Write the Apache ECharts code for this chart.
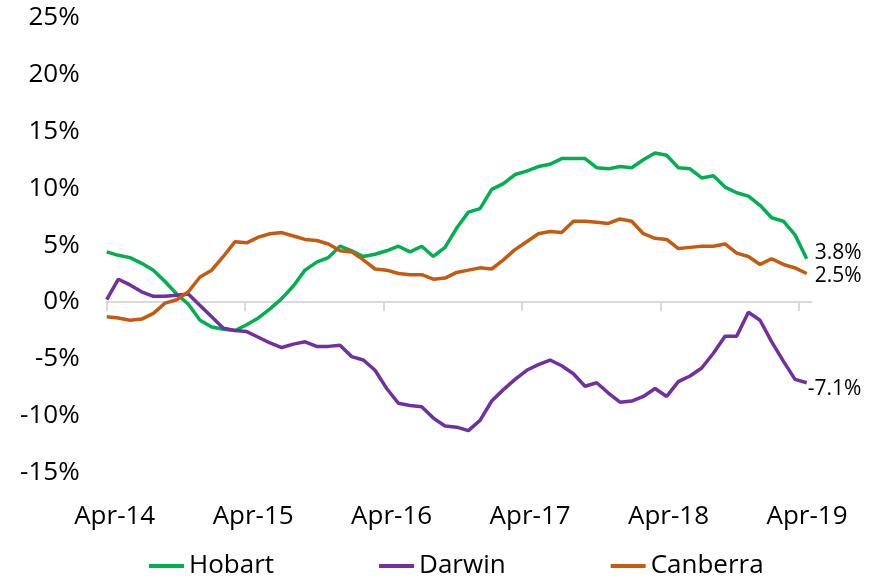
<!DOCTYPE html>
<html>
<head>
<meta charset="utf-8">
<script src="https://cdn.jsdelivr.net/npm/echarts@6/dist/echarts.min.js"></script>
<style>
  html, body { margin: 0; padding: 0; background: #fff; }
  #chart { width: 879px; height: 580px; }
</style>
</head>
<body>
<div id="chart"></div>
<script>
// monthly categories, Apr-14 .. Apr-19
const monthNames = ['Jan', 'Feb', 'Mar', 'Apr', 'May', 'Jun', 'Jul', 'Aug', 'Sep', 'Oct', 'Nov', 'Dec']
const months = []
for (let i = 0; i <= 60; i++) {
  const m = (3 + i) % 12
  const y = 14 + Math.floor((3 + i) / 12)
  months.push(monthNames[m] + '-' + y)
}

const tickLabels = ['Apr-14', 'Apr-15', 'Apr-16', 'Apr-17', 'Apr-18', 'Apr-19']
const tickMonths = [0, 12, 24, 36, 48, 60]

const hobart = [
  4.4, 4.1, 3.9, 3.4, 2.8, 1.8, 0.7, -0.2, -1.6, -2.2,
  -2.4, -2.5, -2.0, -1.4, -0.6, 0.3, 1.4, 2.8, 3.5, 3.9,
  4.9, 4.5, 4.0, 4.2, 4.5, 4.9, 4.4, 4.9, 4.0, 4.8,
  6.5, 7.9, 8.2, 9.9, 10.4, 11.2, 11.5, 11.9, 12.1, 12.6,
  12.6, 12.6, 11.8, 11.7, 11.9, 11.8, 12.5, 13.1, 12.9, 11.8,
  11.7, 10.9, 11.1, 10.1, 9.6, 9.3, 8.5, 7.4, 7.1, 5.9,
  3.8
]
const darwin = [
  0.2, 2.0, 1.5, 0.9, 0.5, 0.5, 0.6, 0.7, -0.3, -1.3,
  -2.3, -2.5, -2.6, -3.1, -3.6, -4.0, -3.7, -3.5, -3.9, -3.9,
  -3.8, -4.8, -5.1, -6.0, -7.6, -8.9, -9.1, -9.2, -10.2, -10.9,
  -11.0, -11.3, -10.4, -8.7, -7.7, -6.8, -6.0, -5.5, -5.1, -5.6,
  -6.3, -7.4, -7.1, -8.0, -8.8, -8.7, -8.3, -7.6, -8.3, -7.0,
  -6.5, -5.8, -4.5, -3.0, -3.0, -0.9, -1.6, -3.5, -5.2, -6.8,
  -7.1
]
const canberra = [
  -1.3, -1.4, -1.6, -1.5, -1.0, -0.1, 0.2, 0.9, 2.2, 2.8,
  4.0, 5.3, 5.2, 5.7, 6.0, 6.1, 5.8, 5.5, 5.4, 5.1,
  4.5, 4.4, 3.7, 2.9, 2.8, 2.5, 2.4, 2.4, 2.0, 2.1,
  2.6, 2.8, 3.0, 2.9, 3.7, 4.6, 5.3, 6.0, 6.2, 6.1,
  7.1, 7.1, 7.0, 6.9, 7.3, 7.1, 6.0, 5.6, 5.5, 4.7,
  4.8, 4.9, 4.9, 5.1, 4.3, 4.0, 3.3, 3.8, 3.3, 3.0,
  2.5
]

const font = 'Open Sans'
const chart = echarts.init(document.getElementById('chart'))

function lineSeries(name, data, color, offset) {
  return {
    name: name,
    type: 'line',
    xAxisIndex: 0,
    yAxisIndex: 0,
    data: data,
    showSymbol: false,
    color: color,
    lineStyle: { color: color, width: 3.5 },
    endLabel: {
      show: true,
      formatter: p => p.value.toFixed(1) + '%',
      color: '#000',
      fontFamily: font,
      fontSize: 21,
      offset: offset
    }
  }
}

const option = {
  animation: false,
  backgroundColor: '#fff',
  grid: [
    { left: 106.7, top: 17.5, width: 700, height: 455.2 },  // data
    { left: 106.7, top: 17.5, width: 705, height: 455.2 }   // visible axes
  ],
  xAxis: [
    { type: 'category', gridIndex: 0, data: months, boundaryGap: false, show: false },
    {
      type: 'value', gridIndex: 1, min: 0, max: 61.1, position: 'bottom',
      axisLine: { show: false, onZero: false },
      axisTick: { show: false },
      splitLine: { show: false },
      axisLabel: {
        customValues: tickMonths,
        formatter: v => tickLabels[Math.round(v / 12)],
        margin: 31,
        padding: [0, 0, 0, 16],
        color: '#000',
        fontFamily: font,
        fontSize: 26
      }
    },
    {
      type: 'value', gridIndex: 1, min: 0, max: 61.1, position: 'bottom',
      axisLine: { onZero: true, lineStyle: { color: '#d9d9d9', width: 2 } },
      axisTick: { customValues: tickMonths, length: 9, lineStyle: { color: '#d9d9d9', width: 2 } },
      axisLabel: { show: false },
      splitLine: { show: false }
    }
  ],
  yAxis: [
    { type: 'value', gridIndex: 0, min: -15, max: 25, show: false },
    {
      type: 'value', gridIndex: 1, min: -15, max: 25, interval: 5,
      axisLine: { show: false },
      axisTick: { show: false },
      splitLine: { show: false },
      axisLabel: {
        formatter: '{value}%',
        margin: 27,
        color: '#000',
        fontFamily: font,
        fontSize: 26
      }
    }
  ],
  legend: {
    data: ['Hobart', 'Darwin', 'Canberra'],
    left: 144,
    top: 548,
    icon: 'rect',
    itemWidth: 35,
    itemHeight: 4,
    itemGap: 105,
    textStyle: { color: '#000', fontFamily: font, fontSize: 26 }
  },
  series: [
    lineSeries('Hobart', hobart, '#00B050', [0, -6]),
    lineSeries('Darwin', darwin, '#7030A0', [-7, 6]),
    lineSeries('Canberra', canberra, '#C55A11', [0, 2])
  ]
}

chart.setOption(option)
</script>
</body>
</html>
